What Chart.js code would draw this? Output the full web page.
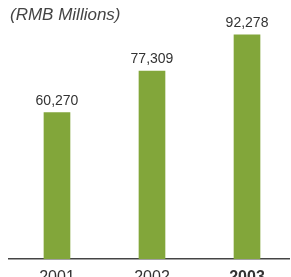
<!DOCTYPE html>
<html>
<head>
<meta charset="utf-8">
<script src="https://cdn.jsdelivr.net/npm/chart.js@4"></script>
<style>
  html, body { margin: 0; padding: 0; background: #fff; }
  #wrap { width: 291px; height: 277px; }
</style>
</head>
<body>
<div id="wrap"><canvas id="myChart"></canvas></div>
<script>
const years = ['2001', '2002', '2003']
const revenue = [60270, 77309, 92278]
const unitLabel = '(RMB Millions)'

const barColor = '#82a63a'
const textColor = '#333333'

// draws the unit caption and the value above each bar
const labelsPlugin = {
    id: 'labels',
    afterDatasetsDraw(chart) {
        const ctx = chart.ctx
        ctx.save()
        ctx.fillStyle = '#444444'
        ctx.font = 'italic 17px "Liberation Sans", Arial, sans-serif'
        ctx.textAlign = 'left'
        ctx.textBaseline = 'alphabetic'
        ctx.fillText(unitLabel, 10, 20)

        ctx.fillStyle = textColor
        ctx.font = '14px "Liberation Sans", Arial, sans-serif'
        ctx.textAlign = 'center'
        chart.getDatasetMeta(0).data.forEach((bar, i) => {
            ctx.fillText(revenue[i].toLocaleString('en-US'), bar.x, bar.y - 8)
        })
        ctx.restore()
    }
}

const canvas = document.getElementById('myChart')
new Chart(canvas, {
    type: 'bar',
    data: {
        datasets: [{
            data: revenue.map((v, i) => ({ x: i, y: v })),
            backgroundColor: barColor,
            barThickness: 26,
        }],
    },
    options: {
        responsive: true,
        maintainAspectRatio: false,
        animation: false,
        layout: { padding: { left: 9, right: 2, top: 16, bottom: 0 } },
        plugins: {
            legend: { display: false },
            tooltip: { enabled: false },
        },
        scales: {
            x: {
                type: 'linear',
                offset: false,
                min: -0.505,
                max: 2.442,
                afterBuildTicks: scale => {
                    scale.ticks = years.map((y, i) => ({ value: i }))
                },
                afterFit: scale => { scale.height = 18 },
                grid: { display: false },
                border: { display: true, color: '#444444', width: 1.5 },
                ticks: {
                    padding: 1,
                    color: textColor,
                    callback: v => years[v],
                    font: ctx => ({
                        family: '"Liberation Sans", Arial, sans-serif',
                        size: 16,
                        weight: ctx.index === 2 ? 'bold' : 'normal'
                    }),
                },
            },
            y: {
                display: false,
                min: 0,
                max: 100000,
            },
        },
    },
    plugins: [labelsPlugin],
})
</script>
</body>
</html>
